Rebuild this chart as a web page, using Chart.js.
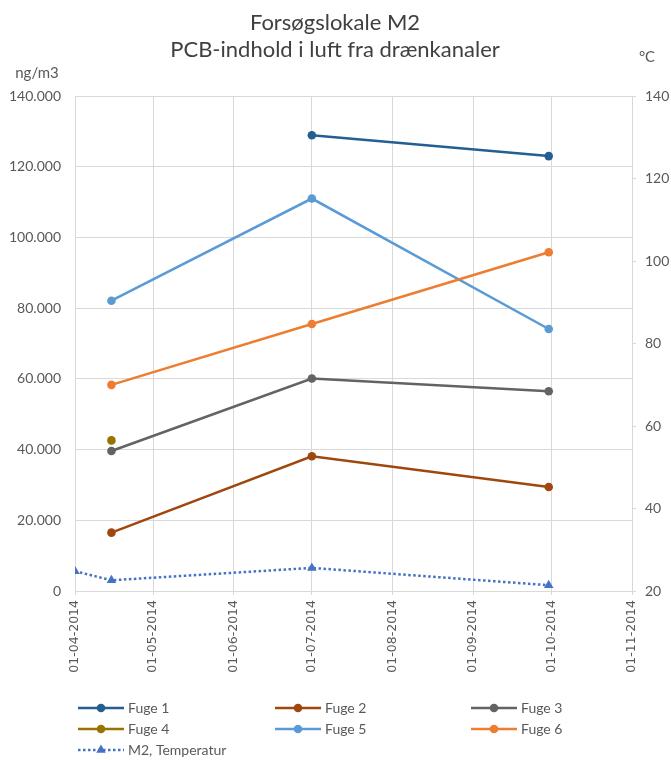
<!DOCTYPE html>
<html>
<head>
<meta charset="utf-8">
<script src="https://cdn.jsdelivr.net/npm/chart.js@4"></script>
<style>
    html, body { margin: 0; padding: 0; background: #ffffff; }
    #wrap { width: 671px; height: 760px; }
</style>
</head>
<body>
<div id="wrap"><canvas id="pcb-chart"></canvas></div>
<script>
// Forsøgslokale M2 - PCB i luft fra drænkanaler

// Måledatoer
var sampleDates = ['2014-04-15', '2014-07-01', '2014-09-30'];
var tempDates = ['2014-04-01', '2014-04-15', '2014-07-01', '2014-09-30'];
var monthTicks = ['2014-04-01', '2014-05-01', '2014-06-01', '2014-07-01',
    '2014-08-01', '2014-09-01', '2014-10-01', '2014-11-01'];

// PCB-indhold (ng/m3)
var fuge1 = [null, 128900, 123000];
var fuge2 = [16500, 38100, 29400];
var fuge3 = [39600, 60100, 56500];
var fuge4 = [42600, null, null];
var fuge5 = [82100, 111000, 74100];
var fuge6 = [58300, 75500, 95800];

// Temperatur (°C)
var temperatur = [24.8, 22.6, 25.6, 21.4];

var seriesNames = ['Fuge 1', 'Fuge 2', 'Fuge 3', 'Fuge 4', 'Fuge 5', 'Fuge 6'];
var seriesValues = [fuge1, fuge2, fuge3, fuge4, fuge5, fuge6];
var seriesColors = ['#255E91', '#9E480E', '#636363', '#997300', '#5B9BD5', '#ED7D31'];

var startDay = Date.UTC(2014, 3, 1);

// dato -> antal dage efter 01-04-2014
function dayOf(s) {
    var p = s.split('-');
    return Math.round((Date.UTC(+p[0], +p[1] - 1, +p[2]) - startDay) / 86400000);
}

function pad2(n) {
    return (n < 10 ? '0' : '') + n;
}

function formatDay(d) {
    var dt = new Date(startDay + d * 86400000);
    return pad2(dt.getUTCDate()) + '-' + pad2(dt.getUTCMonth() + 1) + '-' + dt.getUTCFullYear();
}

// 140000 -> 140.000
function formatThousands(v) {
    return String(v).replace(/\B(?=(\d{3})+(?!\d))/g, '.');
}

function toPoints(dates, values) {
    var pts = [];
    for (var i = 0; i < dates.length; i++) {
        if (values[i] !== null) {
            pts.push({ x: dayOf(dates[i]), y: values[i] });
        }
    }
    return pts;
}

var datasets = [];
for (var i = 0; i < seriesNames.length; i++) {
    datasets.push({
        label: seriesNames[i],
        data: toPoints(sampleDates, seriesValues[i]),
        borderColor: seriesColors[i],
        backgroundColor: seriesColors[i],
        borderWidth: 2.5,
        pointStyle: 'circle',
        pointRadius: 4.3,
        pointBorderWidth: 0,
        yAxisID: 'y',
        order: seriesNames.length - i + 1
    });
}

datasets.push({
    label: 'M2, Temperatur',
    data: toPoints(tempDates, temperatur),
    borderColor: '#4472C4',
    backgroundColor: '#4472C4',
    borderWidth: 2.5,
    borderDash: [2.5, 2.5],
    borderCapStyle: 'butt',
    pointStyle: 'triangle',
    pointRadius: 5.5,
    pointBorderWidth: 0,
    yAxisID: 'y1',
    order: 0
});

var textColor = '#595959';
var gridColor = '#d9d9d9';

// Titel, enheder og forklaring tegnes direkte på canvas
var decorPlugin = {
    id: 'decor',
    afterDraw: function (chart) {
        var ctx = chart.ctx;
        ctx.save();

        ctx.fillStyle = '#404040';
        ctx.font = '22px Lato';
        ctx.textAlign = 'center';
        ctx.textBaseline = 'middle';
        ctx.fillText('Forsøgslokale M2', 335, 23);
        ctx.fillText('PCB-indhold i luft fra drænkanaler', 335, 50);

        ctx.fillStyle = textColor;
        ctx.font = '15px Lato';
        ctx.fillText('ng/m3', 37, 73);
        ctx.fillText('°C', 647, 57);

        // forklaring i tre kolonner
        var colX = [78, 275, 471];
        var rowY = [708, 729, 750];
        var sets = chart.data.datasets;
        ctx.textAlign = 'left';
        for (var k = 0; k < sets.length; k++) {
            var ds = sets[k];
            var x = colX[k % 3];
            var y = rowY[Math.floor(k / 3)];

            ctx.strokeStyle = ds.borderColor;
            ctx.lineWidth = ds.borderWidth;
            ctx.lineCap = 'butt';
            ctx.setLineDash(ds.borderDash || []);
            ctx.beginPath();
            ctx.moveTo(x, y);
            ctx.lineTo(x + 46, y);
            ctx.stroke();
            ctx.setLineDash([]);

            ctx.fillStyle = ds.backgroundColor;
            Chart.helpers.drawPoint(ctx, {
                pointStyle: ds.pointStyle,
                radius: ds.pointRadius,
                rotation: 0,
                borderWidth: 0
            }, x + 23, y);

            ctx.fillStyle = textColor;
            ctx.font = '14px Lato';
            ctx.fillText(ds.label, x + 50, y);
        }
        ctx.restore();
    }
};

var ctx = document.getElementById('pcb-chart').getContext('2d');

var chart = new Chart(ctx, {
    type: 'line',
    data: { datasets: datasets },
    options: {
        responsive: true,
        maintainAspectRatio: false,
        animation: false,
        layout: {
            padding: { top: 96, left: 0, right: 0, bottom: 0 }
        },
        plugins: {
            legend: { display: false },
            title: { display: false },
            tooltip: { enabled: false }
        },
        scales: {
            x: {
                type: 'linear',
                min: 0,
                max: dayOf('2014-11-01'),
                afterBuildTicks: function (scale) {
                    scale.ticks = monthTicks.map(function (m) {
                        return { value: dayOf(m) };
                    });
                },
                afterFit: function (scale) {
                    scale.height = 169;
                },
                ticks: {
                    autoSkip: false,
                    minRotation: 90,
                    maxRotation: 90,
                    padding: 5,
                    color: textColor,
                    font: { family: 'DejaVu Sans', size: 12.5 },
                    callback: function (value) {
                        return formatDay(value);
                    }
                },
                grid: {
                    color: gridColor,
                    lineWidth: 1,
                    tickLength: 4
                },
                border: { color: gridColor }
            },
            y: {
                position: 'left',
                min: 0,
                max: 140000,
                afterFit: function (scale) {
                    scale.width = 75;
                },
                ticks: {
                    stepSize: 20000,
                    padding: 14,
                    color: textColor,
                    font: { family: 'Lato', size: 14 },
                    callback: function (value) {
                        return formatThousands(value);
                    }
                },
                grid: {
                    color: gridColor,
                    lineWidth: 1,
                    drawTicks: false
                },
                border: { color: gridColor }
            },
            y1: {
                position: 'right',
                min: 20,
                max: 140,
                afterFit: function (scale) {
                    scale.width = 39;
                },
                ticks: {
                    stepSize: 20,
                    padding: 9,
                    color: textColor,
                    font: { family: 'Lato', size: 14 }
                },
                grid: {
                    drawOnChartArea: false,
                    color: gridColor,
                    tickLength: 4
                },
                border: { color: gridColor }
            }
        }
    },
    plugins: [decorPlugin]
});
</script>
</body>
</html>
